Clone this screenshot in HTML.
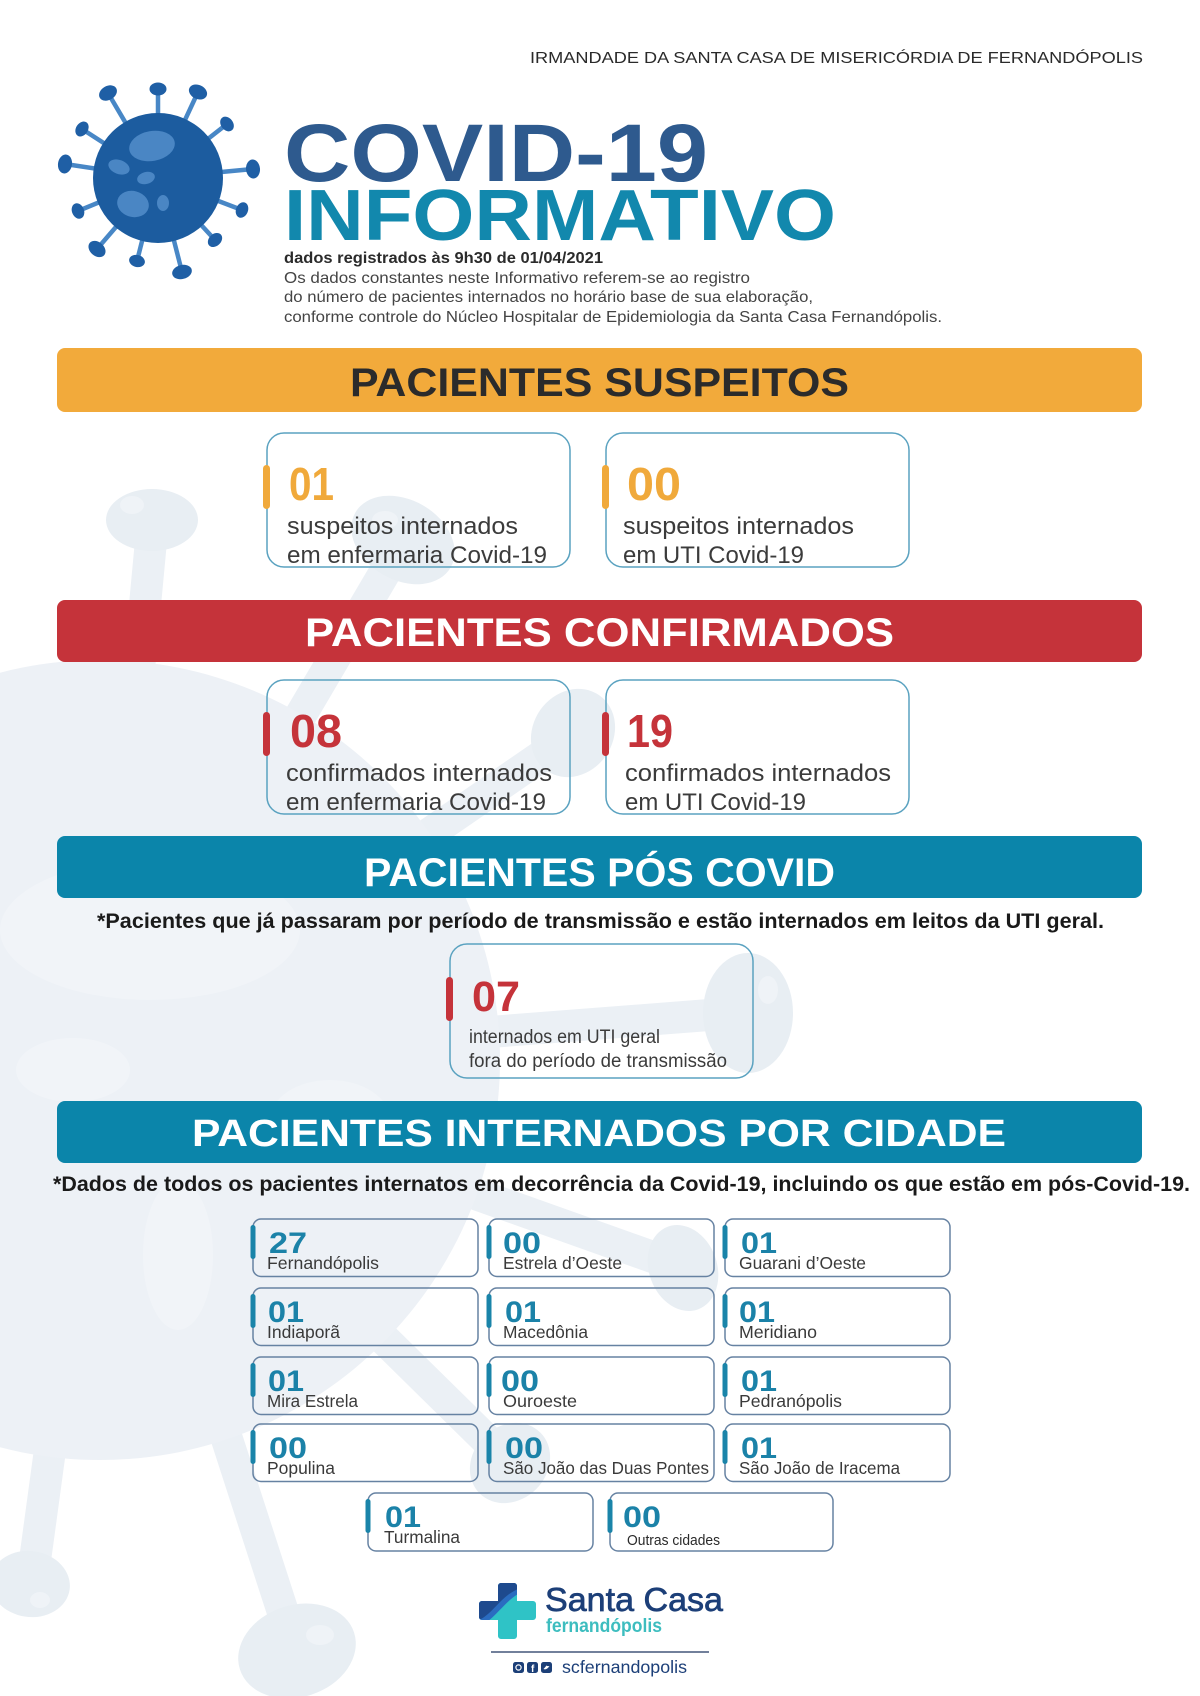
<!DOCTYPE html>
<html><head><meta charset="utf-8"><style>
html,body{margin:0;padding:0;background:#fff;}
svg{display:block;}
text{font-family:"Liberation Sans",sans-serif;}
</style></head><body>
<svg width="1200" height="1696" viewBox="0 0 1200 1696" xmlns="http://www.w3.org/2000/svg">
<rect width="1200" height="1696" fill="#ffffff"/>
<!-- background faded virus -->
<g>
  <g stroke="#ebf0f5" stroke-width="32" stroke-linecap="butt">
    <line x1="138" y1="680" x2="152" y2="530"/>
    <line x1="295" y1="725" x2="395" y2="555"/>
    <line x1="420" y1="840" x2="565" y2="740"/>
    <line x1="490" y1="1032" x2="735" y2="1013"/>
    <line x1="470" y1="1192" x2="675" y2="1265"/>
    <line x1="380" y1="1335" x2="505" y2="1458"/>
    <line x1="224" y1="1430" x2="292" y2="1640"/>
    <line x1="50" y1="1450" x2="33" y2="1575"/>
  </g>
  <circle cx="100" cy="1060" r="400" fill="#edf1f6"/>
  <ellipse cx="150" cy="930" rx="150" ry="70" fill="#f1f4f8"/>
  <ellipse cx="73" cy="1070" rx="57" ry="32" fill="#f1f4f8"/>
  <ellipse cx="178" cy="1255" rx="35" ry="75" fill="#f1f4f8"/>
  <ellipse cx="330" cy="1120" rx="60" ry="40" fill="#f1f4f8"/>
  <g fill="#e8eef3">
    <ellipse cx="152" cy="520" rx="46" ry="31"/>
    <ellipse cx="403" cy="540" rx="55" ry="40" transform="rotate(30 403 540)"/>
    <ellipse cx="573" cy="733" rx="40" ry="46" transform="rotate(35 573 733)"/>
    <ellipse cx="748" cy="1013" rx="45" ry="60"/>
    <ellipse cx="683" cy="1268" rx="34" ry="44" transform="rotate(-20 683 1268)"/>
    <ellipse cx="510" cy="1463" rx="43" ry="37" transform="rotate(-45 510 1463)"/>
    <ellipse cx="297" cy="1651" rx="60" ry="46" transform="rotate(-18 297 1651)"/>
    <ellipse cx="30" cy="1584" rx="40" ry="33" transform="rotate(8 30 1584)"/>
  </g>
  <g fill="#eff3f7">
    <ellipse cx="132" cy="505" rx="12" ry="9"/>
    <ellipse cx="385" cy="520" rx="13" ry="9"/>
    <ellipse cx="768" cy="990" rx="10" ry="14"/>
    <ellipse cx="320" cy="1635" rx="14" ry="10"/>
    <ellipse cx="40" cy="1600" rx="10" ry="8"/>
  </g>
</g>

<!-- header -->
<text x="530" y="63" font-size="16" fill="#2a2a2a" textLength="613" lengthAdjust="spacingAndGlyphs">IRMANDADE DA SANTA CASA DE MISERICÓRDIA DE FERNANDÓPOLIS</text>

<!-- virus icon -->
<g stroke="#4887c6" stroke-width="4.5">
  <line x1="158" y1="178" x2="108" y2="93"/>
  <line x1="158" y1="178" x2="158" y2="89"/>
  <line x1="158" y1="178" x2="198" y2="92"/>
  <line x1="158" y1="178" x2="227" y2="124"/>
  <line x1="158" y1="178" x2="82" y2="129"/>
  <line x1="158" y1="178" x2="65" y2="164"/>
  <line x1="158" y1="178" x2="253" y2="169"/>
  <line x1="158" y1="178" x2="78" y2="211"/>
  <line x1="158" y1="178" x2="242" y2="210"/>
  <line x1="158" y1="178" x2="97" y2="249"/>
  <line x1="158" y1="178" x2="215" y2="240"/>
  <line x1="158" y1="178" x2="137" y2="261"/>
  <line x1="158" y1="178" x2="182" y2="272"/>
</g>
<g fill="#1f5fa5">
  <ellipse cx="108" cy="93" rx="9.5" ry="7" transform="rotate(-30 108 93)"/>
  <ellipse cx="158" cy="89" rx="8.5" ry="6.5"/>
  <ellipse cx="198" cy="92" rx="9.5" ry="7" transform="rotate(25 198 92)"/>
  <ellipse cx="227" cy="124" rx="8" ry="6" transform="rotate(52 227 124)"/>
  <ellipse cx="82" cy="129" rx="8" ry="6" transform="rotate(-57 82 129)"/>
  <ellipse cx="65" cy="164" rx="9.5" ry="7" transform="rotate(-81 65 164)"/>
  <ellipse cx="253" cy="169" rx="9.5" ry="7" transform="rotate(85 253 169)"/>
  <ellipse cx="78" cy="211" rx="8" ry="6" transform="rotate(68 78 211)"/>
  <ellipse cx="242" cy="210" rx="8" ry="6" transform="rotate(111 242 210)"/>
  <ellipse cx="97" cy="249" rx="9.5" ry="7" transform="rotate(41 97 249)"/>
  <ellipse cx="215" cy="240" rx="8" ry="6" transform="rotate(137 215 240)"/>
  <ellipse cx="137" cy="261" rx="8" ry="6" transform="rotate(14 137 261)"/>
  <ellipse cx="182" cy="272" rx="10" ry="7" transform="rotate(166 182 272)"/>
</g>
<circle cx="158" cy="178" r="65" fill="#1c5c9f"/>
<g fill="#4a86c4">
  <ellipse cx="152" cy="146" rx="23" ry="15" transform="rotate(-10 152 146)"/>
  <ellipse cx="119" cy="167" rx="11" ry="7" transform="rotate(20 119 167)"/>
  <ellipse cx="146" cy="178" rx="9" ry="6" transform="rotate(-15 146 178)"/>
  <ellipse cx="133" cy="204" rx="16" ry="13" transform="rotate(15 133 204)"/>
  <ellipse cx="163" cy="203" rx="6" ry="8"/>
</g>

<!-- title -->
<text x="284" y="181" font-size="82" font-weight="bold" fill="#2e5a8e" textLength="424" lengthAdjust="spacingAndGlyphs">COVID-19</text>
<text x="284" y="240" font-size="72" font-weight="bold" fill="#1288ad" textLength="552" lengthAdjust="spacingAndGlyphs">INFORMATIVO</text>
<text x="284" y="263" font-size="16" font-weight="bold" fill="#2b2b2b" textLength="319" lengthAdjust="spacingAndGlyphs">dados registrados às 9h30 de 01/04/2021</text>
<text x="284" y="283" font-size="16" fill="#444" textLength="466" lengthAdjust="spacingAndGlyphs">Os dados constantes neste Informativo referem-se ao registro</text>
<text x="284" y="302" font-size="16" fill="#444" textLength="529" lengthAdjust="spacingAndGlyphs">do número de pacientes internados no horário base de sua elaboração,</text>
<text x="284" y="322" font-size="16" fill="#444" textLength="658" lengthAdjust="spacingAndGlyphs">conforme controle do Núcleo Hospitalar de Epidemiologia da Santa Casa Fernandópolis.</text>

<!-- suspeitos -->
<rect x="57" y="348" width="1085" height="64" rx="8" fill="#f2aa3b"/>
<text x="350" y="396" font-size="40" font-weight="bold" fill="#2b2b2b" textLength="499" lengthAdjust="spacingAndGlyphs">PACIENTES SUSPEITOS</text>

<g fill="none" stroke="#5aa2c0" stroke-width="1.5">
  <rect x="267" y="433" width="303" height="134" rx="17"/>
  <rect x="606" y="433" width="303" height="134" rx="17"/>
  <rect x="267" y="680" width="303" height="134" rx="17"/>
  <rect x="606" y="680" width="303" height="134" rx="17"/>
  <rect x="450" y="944" width="303" height="134" rx="17"/>
</g>
<rect x="263" y="465" width="7" height="44" rx="3.5" fill="#f0a93b"/>
<rect x="602" y="465" width="7" height="44" rx="3.5" fill="#f0a93b"/>
<text x="289" y="500" font-size="46" font-weight="bold" fill="#f0a93b" textLength="45" lengthAdjust="spacingAndGlyphs">01</text>
<text x="627" y="500" font-size="46" font-weight="bold" fill="#f0a93b" textLength="54" lengthAdjust="spacingAndGlyphs">00</text>
<g font-size="24" fill="#3b3b3b">
  <text x="287" y="534" textLength="231" lengthAdjust="spacingAndGlyphs">suspeitos internados</text>
  <text x="287" y="563" textLength="260" lengthAdjust="spacingAndGlyphs">em enfermaria Covid-19</text>
  <text x="623" y="534" textLength="231" lengthAdjust="spacingAndGlyphs">suspeitos internados</text>
  <text x="623" y="563" textLength="181" lengthAdjust="spacingAndGlyphs">em UTI Covid-19</text>
</g>

<!-- confirmados -->
<rect x="57" y="600" width="1085" height="62" rx="8" fill="#c5333a"/>
<text x="305" y="646" font-size="40" font-weight="bold" fill="#ffffff" textLength="589" lengthAdjust="spacingAndGlyphs">PACIENTES CONFIRMADOS</text>
<rect x="263" y="712" width="7" height="44" rx="3.5" fill="#c5333a"/>
<rect x="602" y="712" width="7" height="44" rx="3.5" fill="#c5333a"/>
<text x="290" y="747" font-size="46" font-weight="bold" fill="#c5333a" textLength="52" lengthAdjust="spacingAndGlyphs">08</text>
<text x="627" y="747" font-size="46" font-weight="bold" fill="#c5333a" textLength="46" lengthAdjust="spacingAndGlyphs">19</text>
<g font-size="24" fill="#3b3b3b">
  <text x="286" y="781" textLength="266" lengthAdjust="spacingAndGlyphs">confirmados internados</text>
  <text x="286" y="810" textLength="260" lengthAdjust="spacingAndGlyphs">em enfermaria Covid-19</text>
  <text x="625" y="781" textLength="266" lengthAdjust="spacingAndGlyphs">confirmados internados</text>
  <text x="625" y="810" textLength="181" lengthAdjust="spacingAndGlyphs">em UTI Covid-19</text>
</g>

<!-- pos covid -->
<rect x="57" y="836" width="1085" height="62" rx="8" fill="#0b85aa"/>
<text x="364" y="886" font-size="40" font-weight="bold" fill="#ffffff" textLength="471" lengthAdjust="spacingAndGlyphs">PACIENTES PÓS COVID</text>
<text x="97" y="928" font-size="21" font-weight="bold" fill="#1a1a1a" textLength="1007" lengthAdjust="spacingAndGlyphs">*Pacientes que já passaram por período de transmissão e estão internados em leitos da UTI geral.</text>
<rect x="446" y="977" width="7" height="44" rx="3.5" fill="#c5333a"/>
<text x="472" y="1011" font-size="43" font-weight="bold" fill="#c5333a" textLength="48" lengthAdjust="spacingAndGlyphs">07</text>
<g font-size="19" fill="#3b3b3b">
  <text x="469" y="1043" textLength="191" lengthAdjust="spacingAndGlyphs">internados em UTI geral</text>
  <text x="469" y="1067" textLength="258" lengthAdjust="spacingAndGlyphs">fora do período de transmissão</text>
</g>

<!-- por cidade -->
<rect x="57" y="1101" width="1085" height="62" rx="8" fill="#0b85aa"/>
<text x="192" y="1146" font-size="38" font-weight="bold" fill="#ffffff" textLength="814" lengthAdjust="spacingAndGlyphs">PACIENTES INTERNADOS POR CIDADE</text>
<text x="53" y="1191" font-size="21" font-weight="bold" fill="#1a1a1a" textLength="1137" lengthAdjust="spacingAndGlyphs">*Dados de todos os pacientes internatos em decorrência da Covid-19, incluindo os que estão em pós-Covid-19.</text>

<g fill="none" stroke="#6682a2" stroke-width="1.5">
  <rect x="253" y="1219" width="225" height="57.5" rx="8"/>
  <rect x="489" y="1219" width="225" height="57.5" rx="8"/>
  <rect x="725" y="1219" width="225" height="57.5" rx="8"/>
  <rect x="253" y="1288" width="225" height="57.5" rx="8"/>
  <rect x="489" y="1288" width="225" height="57.5" rx="8"/>
  <rect x="725" y="1288" width="225" height="57.5" rx="8"/>
  <rect x="253" y="1357" width="225" height="57.5" rx="8"/>
  <rect x="489" y="1357" width="225" height="57.5" rx="8"/>
  <rect x="725" y="1357" width="225" height="57.5" rx="8"/>
  <rect x="253" y="1424" width="225" height="57.5" rx="8"/>
  <rect x="489" y="1424" width="225" height="57.5" rx="8"/>
  <rect x="725" y="1424" width="225" height="57.5" rx="8"/>
  <rect x="368" y="1493" width="225" height="58" rx="8"/>
  <rect x="610" y="1493" width="223" height="58" rx="8"/>
</g>
<g fill="#1a84a9">
  <rect x="250.5" y="1225" width="5" height="34" rx="2.5"/>
  <rect x="486.5" y="1225" width="5" height="34" rx="2.5"/>
  <rect x="722.5" y="1225" width="5" height="34" rx="2.5"/>
  <rect x="250.5" y="1294" width="5" height="34" rx="2.5"/>
  <rect x="486.5" y="1294" width="5" height="34" rx="2.5"/>
  <rect x="722.5" y="1294" width="5" height="34" rx="2.5"/>
  <rect x="250.5" y="1363" width="5" height="34" rx="2.5"/>
  <rect x="486.5" y="1363" width="5" height="34" rx="2.5"/>
  <rect x="722.5" y="1363" width="5" height="34" rx="2.5"/>
  <rect x="250.5" y="1430" width="5" height="34" rx="2.5"/>
  <rect x="486.5" y="1430" width="5" height="34" rx="2.5"/>
  <rect x="722.5" y="1430" width="5" height="34" rx="2.5"/>
  <rect x="365.5" y="1499" width="5" height="34" rx="2.5"/>
  <rect x="607.5" y="1499" width="5" height="34" rx="2.5"/>
</g>
<g font-size="30" font-weight="bold" fill="#1b82a8">
  <text x="269" y="1253" textLength="38" lengthAdjust="spacingAndGlyphs">27</text>
  <text x="503" y="1253" textLength="38" lengthAdjust="spacingAndGlyphs">00</text>
  <text x="741" y="1253" textLength="36" lengthAdjust="spacingAndGlyphs">01</text>
  <text x="268" y="1322" textLength="36" lengthAdjust="spacingAndGlyphs">01</text>
  <text x="505" y="1322" textLength="36" lengthAdjust="spacingAndGlyphs">01</text>
  <text x="739" y="1322" textLength="36" lengthAdjust="spacingAndGlyphs">01</text>
  <text x="268" y="1391" textLength="36" lengthAdjust="spacingAndGlyphs">01</text>
  <text x="501" y="1391" textLength="38" lengthAdjust="spacingAndGlyphs">00</text>
  <text x="741" y="1391" textLength="36" lengthAdjust="spacingAndGlyphs">01</text>
  <text x="269" y="1458" textLength="38" lengthAdjust="spacingAndGlyphs">00</text>
  <text x="505" y="1458" textLength="38" lengthAdjust="spacingAndGlyphs">00</text>
  <text x="741" y="1458" textLength="36" lengthAdjust="spacingAndGlyphs">01</text>
  <text x="385" y="1527" textLength="36" lengthAdjust="spacingAndGlyphs">01</text>
  <text x="623" y="1527" textLength="38" lengthAdjust="spacingAndGlyphs">00</text>
</g>
<g font-size="17.5" fill="#3a3a3a">
  <text x="267" y="1269" textLength="112" lengthAdjust="spacingAndGlyphs">Fernandópolis</text>
  <text x="503" y="1269" textLength="119" lengthAdjust="spacingAndGlyphs">Estrela d’Oeste</text>
  <text x="739" y="1269" textLength="127" lengthAdjust="spacingAndGlyphs">Guarani d’Oeste</text>
  <text x="267" y="1338" textLength="73" lengthAdjust="spacingAndGlyphs">Indiaporã</text>
  <text x="503" y="1338" textLength="85" lengthAdjust="spacingAndGlyphs">Macedônia</text>
  <text x="739" y="1338" textLength="78" lengthAdjust="spacingAndGlyphs">Meridiano</text>
  <text x="267" y="1407" textLength="91" lengthAdjust="spacingAndGlyphs">Mira Estrela</text>
  <text x="503" y="1407" textLength="74" lengthAdjust="spacingAndGlyphs">Ouroeste</text>
  <text x="739" y="1407" textLength="103" lengthAdjust="spacingAndGlyphs">Pedranópolis</text>
  <text x="267" y="1474" textLength="68" lengthAdjust="spacingAndGlyphs">Populina</text>
  <text x="503" y="1474" textLength="206" lengthAdjust="spacingAndGlyphs">São João das Duas Pontes</text>
  <text x="739" y="1474" textLength="161" lengthAdjust="spacingAndGlyphs">São João de Iracema</text>
  <text x="384" y="1543" textLength="76" lengthAdjust="spacingAndGlyphs">Turmalina</text>
</g>
<text x="627" y="1545" font-size="15" fill="#2a2a2a" textLength="93" lengthAdjust="spacingAndGlyphs">Outras cidades</text>

<!-- logo -->
<defs>
  <clipPath id="plus">
    <path d="M498,1586 a3,3 0 0 1 3,-3 h13 a3,3 0 0 1 3,3 v15 h16 a3,3 0 0 1 3,3 v13 a3,3 0 0 1 -3,3 h-16 v16 a3,3 0 0 1 -3,3 h-13 a3,3 0 0 1 -3,-3 v-16 h-16 a3,3 0 0 1 -3,-3 v-13 a3,3 0 0 1 3,-3 h16 z"/>
  </clipPath>
</defs>
<g clip-path="url(#plus)">
  <rect x="475" y="1580" width="65" height="62" fill="#2fc3c6"/>
  <path d="M470,1628 C490,1628 500,1605 518,1594 C526,1589 532,1587 542,1585 L542,1575 L470,1575 Z" fill="#2a6cc0"/>
  <path d="M470,1622 C488,1622 497,1600 514,1591 C522,1587 530,1584 542,1582 L542,1575 L470,1575 Z" fill="#1e4a8e"/>
</g>
<text x="545" y="1611" font-size="33" fill="#1c3f78" stroke="#1c3f78" stroke-width="0.7" textLength="178" lengthAdjust="spacingAndGlyphs">Santa Casa</text>
<text x="546" y="1632" font-size="19" font-weight="bold" fill="#3dbdbf" textLength="116" lengthAdjust="spacingAndGlyphs">fernandópolis</text>
<line x1="491" y1="1652" x2="709" y2="1652" stroke="#44577a" stroke-width="1.5"/>
<g fill="#1c3f78">
  <rect x="513" y="1662" width="11" height="11" rx="2.5"/>
  <rect x="527" y="1662" width="11" height="11" rx="2.5"/>
  <rect x="541" y="1662" width="11" height="11" rx="2.5"/>
</g>
<circle cx="518.5" cy="1667.5" r="2.6" fill="none" stroke="#fff" stroke-width="1.2"/>
<text x="531" y="1672" font-size="10" font-weight="bold" fill="#fff">f</text>
<path d="M543.5,1669 q3,1.5 6,-3 q-2,0.5 -3,-0.5 q-1.5,2 -3,3.5z" fill="#fff"/>
<text x="562" y="1673" font-size="17.5" fill="#1c3f78" textLength="125" lengthAdjust="spacingAndGlyphs">scfernandopolis</text>
</svg>
</body></html>
